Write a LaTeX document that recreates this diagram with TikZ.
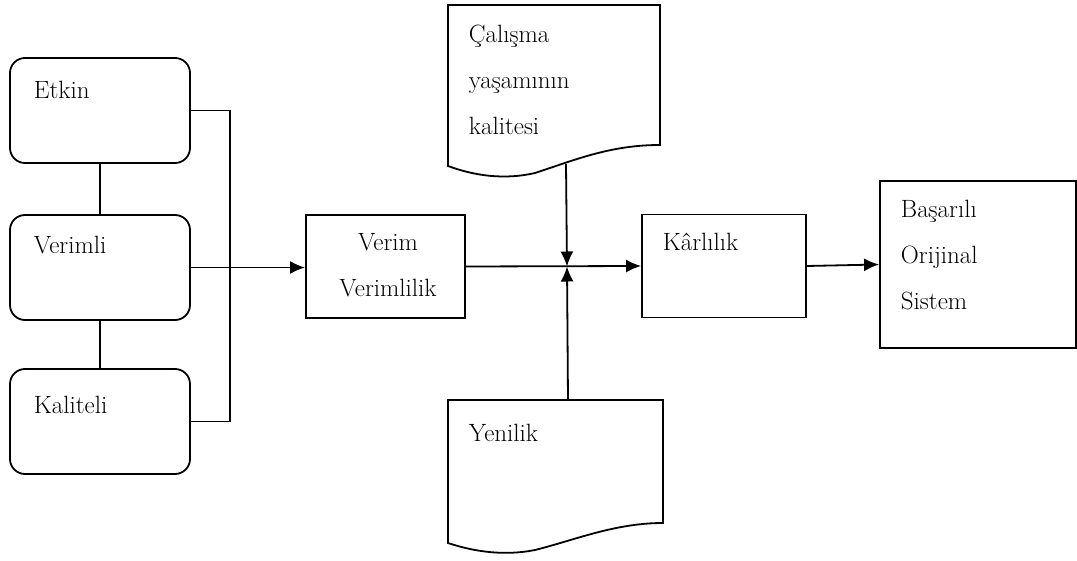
\documentclass[tikz,border=0pt]{standalone}
\usepackage{fontspec}
\usetikzlibrary{arrows.meta,positioning}

\begin{document}
\begin{tikzpicture}[x=1pt,y=-1pt,line width=1.8pt,>={Latex[length=15pt,width=13pt]},
    rbox/.style={draw,rounded corners=15pt,minimum width=180pt,minimum height=105pt},
    sbox/.style={draw,minimum width=#1pt},
    txt/.style={anchor=west,inner sep=0pt,align=left,font=\fontsize{25}{46}\selectfont}]
    \useasboundingbox (0,0) rectangle (1077,561);

    % left column
    \node[rbox] (etkin)    at (100,110.5) {};
    \node[rbox] (verimli)  at (100,267.5) {};
    \node[rbox] (kaliteli) at (100,421.5) {};
    \node[txt] (etkinT)    at (33,90)  {Etkin};
    \node[txt] (verimliT)  at (33,245) {Verimli};
    \node[txt] (kaliteliT) at (33,405) {Kaliteli};

    % middle row
    \node[sbox=159,minimum height=103pt] (verim)    at (385.5,266.5) {};
    \node[sbox=164,minimum height=103pt] (karlilik) at (724,266)     {};
    \node[sbox=196,minimum height=167pt] (basarili) at (978,264.5)   {};
    \node[txt,anchor=center,align=center] (verimT) at (388,265) {Verim\\Verimlilik};
    \node[txt] (karlilikT) at (662,242) {Kârlılık};
    \node[txt] (basariliT) at (900,255) {Başarılı\\Orijinal\\Sistem};

    % document shapes
    \draw (448,166) -- (448,5) -- (660,5) -- (660,145)
          .. controls (610,145) and (575,160) .. (535,173)
          .. controls (505,180) and (475,176) .. cycle;
    \draw (448,543) -- (448,400) -- (663,400) -- (663,523)
          .. controls (615,523) and (575,540) .. (535,550)
          .. controls (505,556) and (475,552) .. cycle;
    \node[txt] (calismaT) at (468,80)  {Çalışma\\yaşamının\\kalitesi};
    \node[txt] (yenilikT) at (468,433) {Yenilik};

    \coordinate (cw) at (566,164);
    \coordinate (yt) at (568,400);
    \coordinate (j)  at (567,266.5);

    % connectors
    \draw (etkin) -- (verimli) (verimli) -- (kaliteli);
    \draw (etkin.east) -- ++(39,0) |- (kaliteli.east);
    \draw[->] (verimli.east) -- (verimli.east -| verim.west);
    \draw[->] (verim.east) -- (karlilik.west);
    \draw[->] (cw) -- (j);
    \draw[->] (yt) -- (j);
    \draw[->] (karlilik.east) -- (basarili.west);
\end{tikzpicture}
\end{document}
